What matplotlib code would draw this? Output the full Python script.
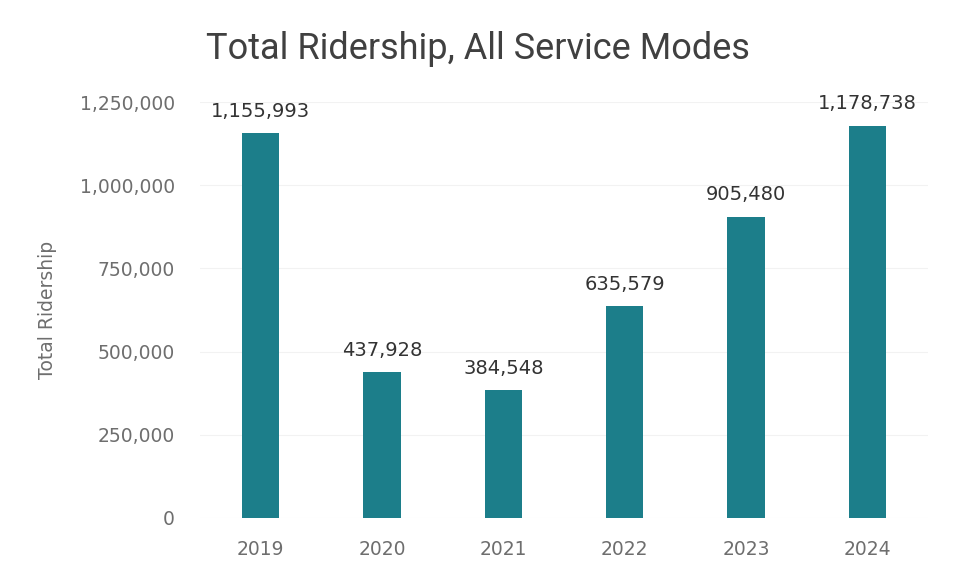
import matplotlib
matplotlib.use("Agg")
import matplotlib.pyplot as plt

years = ["2019", "2020", "2021", "2022", "2023", "2024"]
ridership = [1155993, 437928, 384548, 635579, 905480, 1178738]
y_ticks = [0, 250000, 500000, 750000, 1000000, 1250000]

bar_color = "#1c7e8a"

fig = plt.figure(figsize=(9.6, 5.76), dpi=100)
ax = fig.add_axes([0.2083, 0.1007, 0.7584, 0.7222])

x = range(len(years))
ax.bar(x, ridership, width=0.31, color=bar_color, zorder=2)

for xi, v in zip(x, ridership):
    ax.annotate(f"{v:,}", (xi, v), xytext=(0, 9), textcoords="offset points",
                ha="center", va="bottom", fontsize=14, color="#333333",
                family="DejaVu Sans", annotation_clip=False)

ax.set_xlim(-0.5, len(years) - 0.5)
ax.set_ylim(0, 1250000)
ax.set_xticks(list(x))
ax.set_xticklabels(years)
ax.set_yticks(y_ticks)
ax.set_yticklabels([f"{t:,}" for t in y_ticks])
ax.tick_params(axis="both", length=0, labelsize=13.5, labelcolor="#6e6e6e")
ax.tick_params(axis="x", pad=16)
ax.tick_params(axis="y", pad=18)

ax.grid(axis="y", color="#f2f2f2", linewidth=0.8, zorder=0)
for s in ax.spines.values():
    s.set_visible(False)

ax.set_ylabel("Total Ridership", fontsize=13.5, color="#6e6e6e")
ax.yaxis.set_label_coords(-0.197, 0.5)

fig.text(0.498, 0.915, "Total Ridership, All Service Modes", ha="center",
         va="center", fontsize=26, color="#404040", family="Roboto",
         fontstretch="condensed")

fig.savefig("out.png", dpi=100)
